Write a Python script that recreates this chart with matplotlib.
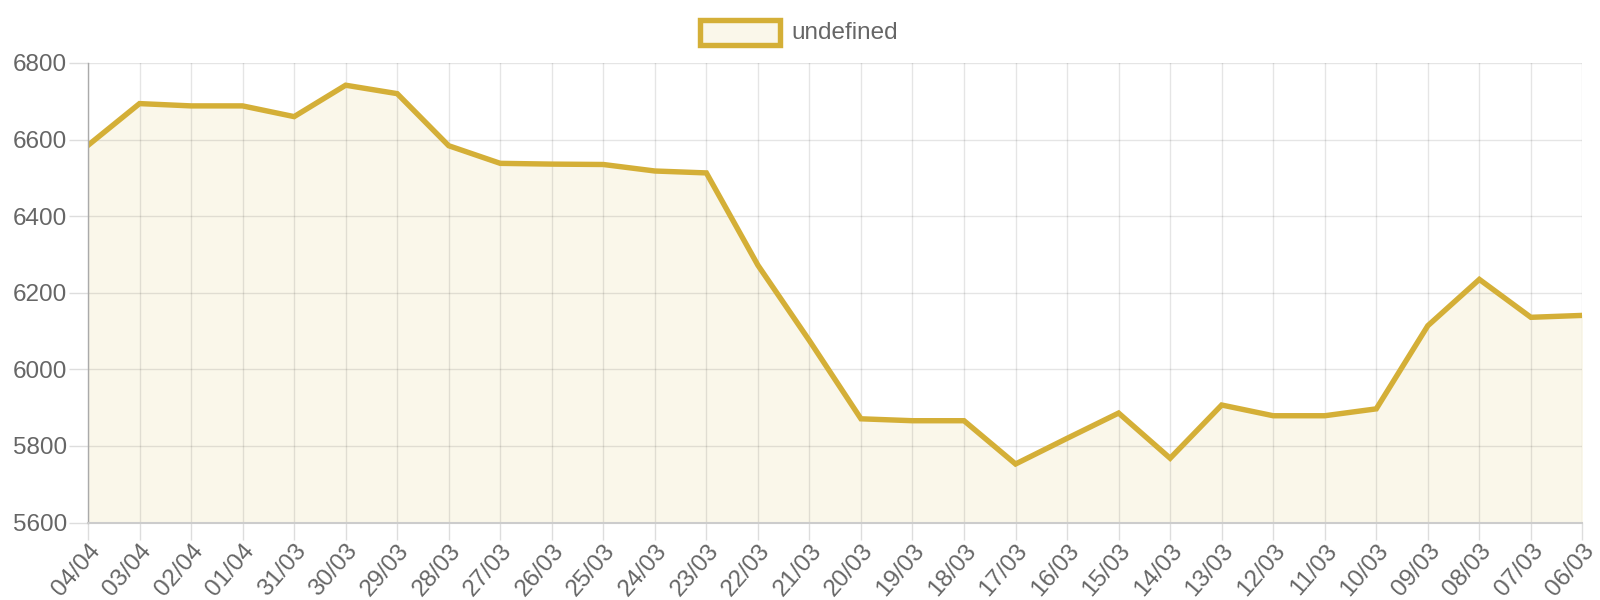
import numpy as np
import matplotlib.pyplot as plt
from matplotlib.patches import Rectangle

plt.rcParams['font.family'] = ['Liberation Sans', 'DejaVu Sans']

dates = ['04/04', '03/04', '02/04', '01/04', '31/03', '30/03', '29/03', '28/03',
         '27/03', '26/03', '25/03', '24/03', '23/03', '22/03', '21/03', '20/03',
         '19/03', '18/03', '17/03', '16/03', '15/03', '14/03', '13/03', '12/03',
         '11/03', '10/03', '09/03', '08/03', '07/03', '06/03']
values = [6585, 6694, 6688, 6688, 6660, 6742, 6720, 6584,
          6538, 6536, 6535, 6518, 6513, 6272, 6075, 5871,
          5866, 5866, 5753, 5820, 5886, 5768, 5907, 5879,
          5879, 5897, 6114, 6235, 6136, 6141]
yticks = [5600, 5800, 6000, 6200, 6400, 6600, 6800]

gold = '#D4AF37'
fill = '#FAF7EA'
grey_text = '#666666'

fig = plt.figure(figsize=(16, 6), dpi=100)
ax = fig.add_axes([0.055, 0.129, 0.934, 0.766])

x = np.arange(len(dates))
ax.fill_between(x, values, 5600, color=fill, zorder=1)
ax.plot(x, values, color=gold, linewidth=3.9, solid_joinstyle='miter', zorder=3)

ax.set_xlim(0, len(dates) - 1)
ax.set_ylim(5600, 6800)
ax.set_xticks(x)
ax.set_xticklabels(dates, rotation=49, ha='right', rotation_mode='anchor')
ax.set_yticks(yticks)
ax.tick_params(axis='both', colors='#dddddd', labelcolor=grey_text, labelsize=17.5, width=1)
ax.tick_params(axis='x', length=12, pad=0.5)
ax.tick_params(axis='y', length=14, pad=1)

ax.grid(True, color='#000000', alpha=0.1, linewidth=1, zorder=2)
ax.set_axisbelow(False)
for side in ['top', 'right']:
    ax.spines[side].set_visible(False)
ax.spines['left'].set_color('#aaaaaa')
ax.spines['bottom'].set_color('#cccccc')
ax.spines['left'].set_linewidth(1)
ax.spines['bottom'].set_linewidth(1.5)
for spine in ax.spines.values():
    spine.set_zorder(4)

# legend, drawn like the chart.js box
fig.patches.append(Rectangle((700 / 1600, 1 - 45 / 600), 80 / 1600, 25 / 600,
                             transform=fig.transFigure, facecolor=fill,
                             edgecolor=gold, linewidth=3.9))
fig.text(791 / 1600, 1 - 33 / 600, 'undefined', color=grey_text, fontsize=17.5,
         va='center', ha='left')

fig.savefig('out.png', dpi=100)
